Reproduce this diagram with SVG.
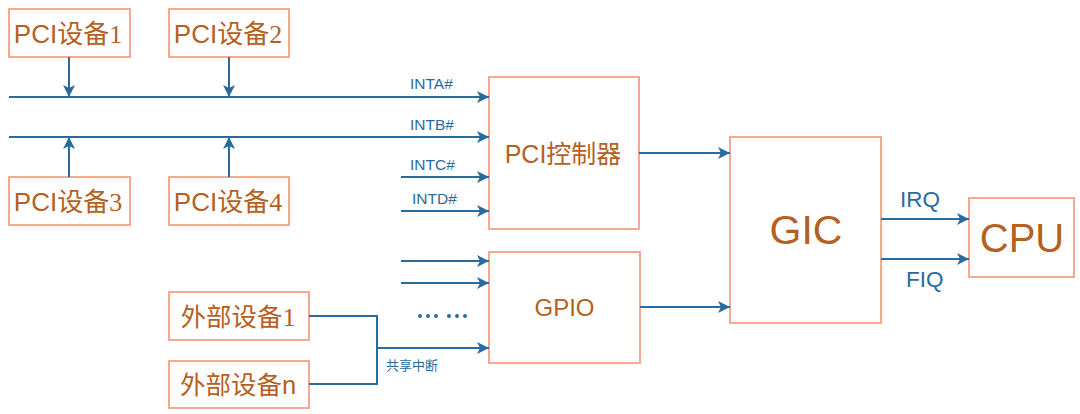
<svg xmlns="http://www.w3.org/2000/svg" width="1080" height="414" viewBox="0 0 1080 414">
<defs>
<marker id="ah" viewBox="0 0 12 12" refX="12" refY="6" markerWidth="12" markerHeight="12" markerUnits="userSpaceOnUse" orient="auto">
<path d="M0,0 L12,6 L0,12 L3,6 Z" fill="#2A6B9C"/>
</marker>
<style>
.box{fill:#fff;stroke:#F4A990;stroke-width:2}
.t{fill:#B5601F;font-family:"Liberation Sans","Noto Sans CJK SC",sans-serif}
.d{font-family:"Liberation Serif",serif}
.ln{stroke:#2A6B9C;stroke-width:2;fill:none}
.a{marker-end:url(#ah)}
.lb{fill:#2A6B9C;font-family:"Liberation Sans","Noto Sans CJK SC",sans-serif}
</style>
</defs>
<rect width="1080" height="414" fill="#fff"/>
<g id="pci1"><rect class="box" x="9" y="9" width="121" height="48"/><text class="t" x="68" y="43" font-size="26" text-anchor="middle">PCI设备<tspan class="d">1</tspan></text></g>
<g id="pci2"><rect class="box" x="169" y="9" width="120" height="48"/><text class="t" x="228" y="43" font-size="26" text-anchor="middle">PCI设备<tspan class="d">2</tspan></text></g>
<g id="pci3"><rect class="box" x="9" y="177" width="121" height="48"/><text class="t" x="68" y="211" font-size="26" text-anchor="middle">PCI设备<tspan class="d">3</tspan></text></g>
<g id="pci4"><rect class="box" x="169" y="177" width="120" height="48"/><text class="t" x="228" y="211" font-size="26" text-anchor="middle">PCI设备<tspan class="d">4</tspan></text></g>
<g id="pcictl"><rect class="box" x="489" y="77" width="150" height="152"/><text class="t" x="563" y="163" font-size="25" text-anchor="middle">PCI控制器</text></g>
<g id="gpio"><rect class="box" x="489" y="252" width="151" height="111"/><text class="t" x="564.5" y="316" font-size="24" text-anchor="middle">GPIO</text></g>
<g id="ext1"><rect class="box" x="169" y="292" width="140" height="48"/><text class="t" x="238" y="326" font-size="25.5" text-anchor="middle">外部设备<tspan class="d">1</tspan></text></g>
<g id="extn"><rect class="box" x="169" y="361" width="140" height="47"/><text class="t" x="238" y="394" font-size="25.5" text-anchor="middle">外部设备n</text></g>
<g id="gic"><rect class="box" x="730" y="137" width="151" height="186"/><text class="t" x="806" y="244" font-size="41" text-anchor="middle">GIC</text></g>
<g id="cpu"><rect class="box" x="969" y="198" width="105" height="79"/><text class="t" x="1022" y="252" font-size="40" text-anchor="middle">CPU</text></g>
<g id="connectors">
<line class="ln a" x1="9" y1="97" x2="489" y2="97"/>
<line class="ln a" x1="9" y1="137" x2="489" y2="137"/>
<line class="ln a" x1="401" y1="177" x2="489" y2="177"/>
<line class="ln a" x1="401" y1="211" x2="489" y2="211"/>
<line class="ln a" x1="69" y1="57" x2="69" y2="97"/>
<line class="ln a" x1="229" y1="57" x2="229" y2="97"/>
<line class="ln a" x1="69" y1="177" x2="69" y2="137"/>
<line class="ln a" x1="229" y1="177" x2="229" y2="137"/>
<line class="ln a" x1="401" y1="261" x2="489" y2="261"/>
<line class="ln a" x1="401" y1="283" x2="489" y2="283"/>
<polyline class="ln" points="309,316 377,316 377,384 309,384"/>
<line class="ln a" x1="377" y1="348" x2="489" y2="348"/>
<line class="ln a" x1="639" y1="153" x2="730" y2="153"/>
<line class="ln a" x1="640" y1="307" x2="730" y2="307"/>
<line class="ln a" x1="881" y1="219" x2="969" y2="219"/>
<line class="ln a" x1="881" y1="259" x2="969" y2="259"/>
<g fill="#2A6B9C"><circle cx="420" cy="316" r="2"/><circle cx="428" cy="316" r="2"/><circle cx="436" cy="316" r="2"/><circle cx="449" cy="316" r="2"/><circle cx="457" cy="316" r="2"/><circle cx="465" cy="316" r="2"/></g>
<text class="lb" x="410" y="89" font-size="15.5">INTA#</text>
<text class="lb" x="410" y="130" font-size="15.5">INTB#</text>
<text class="lb" x="410" y="170" font-size="15.5">INTC#</text>
<text class="lb" x="412" y="204" font-size="15.5">INTD#</text>
<text class="lb" x="386" y="370" font-size="13">共享中断</text>
<text class="lb" x="900" y="207" font-size="22.5">IRQ</text>
<text class="lb" x="906" y="287" font-size="22.5">FIQ</text>
</g>
</svg>
